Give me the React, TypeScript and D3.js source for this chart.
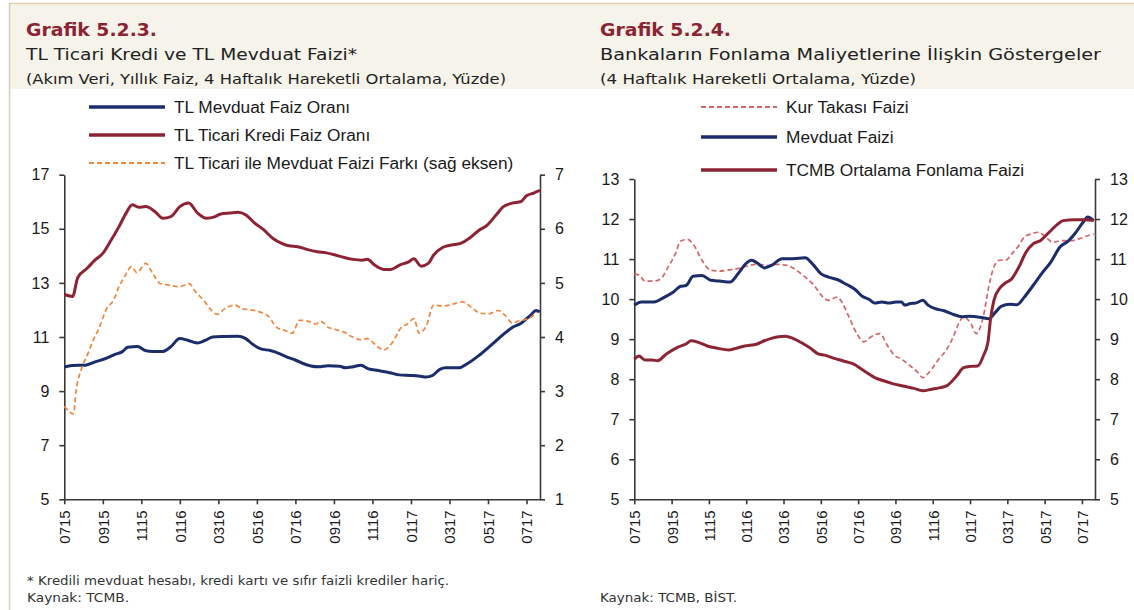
import React, { useRef, useEffect } from 'react';
import * as d3 from 'd3';

type Pt = [number, number];

// x = months counted from July 2015 (0 -> "0715")
const monthTicks = [0, 2, 4, 6, 8, 10, 12, 14, 16, 18, 20, 22, 24];
const monthLabels = ['0715', '0915', '1115', '0116', '0316', '0516', '0716', '0916', '1116', '0117', '0317', '0517', '0717'];

const rateTicks = [5, 7, 9, 11, 13, 15, 17];
const spreadTicks = [1, 2, 3, 4, 5, 6, 7];
const fundTicks = [5, 6, 7, 8, 9, 10, 11, 12, 13];

// Grafik 5.2.3
const tlDeposit: Pt[] = [
  [0, 9.89], [0.4, 9.95], [1.1, 9.96], [1.6, 10.08], [2.2, 10.22], [2.6, 10.35], [3.0, 10.45], [3.3, 10.62],
  [3.8, 10.65], [4.2, 10.5], [4.6, 10.46], [5.1, 10.46], [5.5, 10.62], [6.0, 10.94], [6.4, 10.88], [6.9, 10.78],
  [7.3, 10.87], [7.7, 11.0], [8.3, 11.02], [9.0, 11.03], [9.4, 10.95], [9.8, 10.72], [10.2, 10.56], [10.7, 10.5],
  [11.2, 10.38], [11.6, 10.25], [12.0, 10.15], [12.4, 10.02], [12.8, 9.93], [13.2, 9.9], [13.7, 9.94], [14.3, 9.92],
  [14.6, 9.86], [15.0, 9.9], [15.4, 9.96], [15.8, 9.82], [16.3, 9.76], [16.9, 9.68], [17.4, 9.6], [18.0, 9.58],
  [18.4, 9.56], [18.8, 9.52], [19.1, 9.57], [19.5, 9.8], [19.8, 9.86], [20.5, 9.86], [20.9, 10.0], [21.5, 10.3],
  [22.0, 10.6], [22.4, 10.85], [22.8, 11.1], [23.3, 11.37], [23.7, 11.5], [24.2, 11.8], [24.5, 11.98], [24.69, 11.93],
];

const tlLoan: Pt[] = [
  [0, 12.57], [0.43, 12.5], [0.7, 13.2], [1.17, 13.53], [1.63, 13.87], [2.0, 14.09], [2.38, 14.52], [2.84, 15.08],
  [3.21, 15.58], [3.53, 15.89], [3.86, 15.8], [4.23, 15.82], [4.7, 15.64], [5.12, 15.39], [5.53, 15.45], [6.0, 15.82],
  [6.46, 15.95], [6.92, 15.58], [7.39, 15.39], [7.76, 15.43], [8.13, 15.55], [8.6, 15.58], [9.02, 15.61], [9.43, 15.51],
  [9.9, 15.2], [10.36, 14.96], [10.82, 14.65], [11.29, 14.46], [11.66, 14.37], [12.12, 14.34], [12.59, 14.24], [13.14, 14.15],
  [13.61, 14.11], [14.07, 14.03], [14.53, 13.94], [15.0, 13.87], [15.46, 13.84], [15.74, 13.87], [16.11, 13.66], [16.58, 13.5],
  [16.95, 13.5], [17.41, 13.66], [17.88, 13.78], [18.15, 13.89], [18.53, 13.62], [18.9, 13.72], [19.18, 14.03], [19.64, 14.31],
  [20.1, 14.4], [20.57, 14.46], [21.03, 14.65], [21.5, 14.93], [21.96, 15.14], [22.42, 15.51], [22.8, 15.82], [23.26, 15.95],
  [23.72, 16.01], [24.0, 16.22], [24.37, 16.32], [24.69, 16.42],
];

const loanDepositSpread: Pt[] = [
  [0, 2.72], [0.48, 2.58], [0.61, 3.0], [0.89, 3.41], [1.26, 3.72], [1.45, 3.9], [1.82, 4.18], [2.19, 4.52],
  [2.56, 4.68], [2.84, 4.93], [3.12, 5.11], [3.49, 5.3], [3.77, 5.19], [4.23, 5.36], [4.6, 5.17], [4.97, 4.99],
  [5.44, 4.96], [5.9, 4.93], [6.27, 4.96], [6.46, 4.99], [6.83, 4.83], [7.3, 4.65], [7.57, 4.52], [7.95, 4.42],
  [8.32, 4.52], [8.87, 4.59], [9.24, 4.52], [9.71, 4.5], [10.17, 4.46], [10.64, 4.37], [11.01, 4.18], [11.47, 4.12],
  [11.84, 4.07], [12.21, 4.31], [12.68, 4.29], [13.05, 4.24], [13.33, 4.29], [13.7, 4.18], [14.16, 4.13], [14.53, 4.09],
  [14.91, 4.01], [15.37, 3.95], [15.74, 3.97], [16.11, 3.87], [16.58, 3.76], [17.04, 3.9], [17.5, 4.18], [17.78, 4.23],
  [18.15, 4.34], [18.43, 4.07], [18.8, 4.21], [19.18, 4.59], [19.64, 4.57], [20.1, 4.6], [20.66, 4.65], [21.13, 4.55],
  [21.59, 4.44], [22.05, 4.43], [22.52, 4.49], [22.89, 4.4], [23.26, 4.26], [23.63, 4.3], [24.1, 4.34], [24.56, 4.46],
];

// Grafik 5.2.4
const swapRate: Pt[] = [
  [0, 10.63], [0.29, 10.59], [0.57, 10.45], [1.05, 10.45], [1.43, 10.51], [1.81, 10.8], [2.2, 11.13], [2.48, 11.45],
  [2.86, 11.49], [3.15, 11.38], [3.63, 10.97], [4.1, 10.72], [4.58, 10.7], [5.06, 10.73], [5.54, 10.76], [6.01, 10.82],
  [6.59, 10.87], [7.16, 10.84], [7.73, 10.87], [8.21, 10.84], [8.69, 10.72], [9.16, 10.55], [9.64, 10.34], [10.12, 10.05],
  [10.41, 9.97], [10.88, 10.05], [11.17, 9.89], [11.55, 9.51], [11.93, 9.14], [12.31, 8.93], [12.7, 9.06], [13.17, 9.14],
  [13.56, 8.85], [13.94, 8.6], [14.32, 8.5], [14.8, 8.33], [15.2, 8.17], [15.47, 8.04], [15.66, 8.1], [15.94, 8.25],
  [16.32, 8.5], [16.7, 8.71], [17.09, 9.05], [17.4, 9.4], [17.66, 9.56], [18.04, 9.39], [18.33, 9.14], [18.71, 9.56],
  [19.0, 10.3], [19.28, 10.8], [19.57, 10.97], [19.95, 10.98], [20.24, 11.13], [20.62, 11.34], [20.91, 11.55], [21.29, 11.63],
  [21.67, 11.67], [22.05, 11.55], [22.43, 11.42], [22.91, 11.46], [23.39, 11.46], [23.87, 11.51], [24.34, 11.59], [24.63, 11.63],
];

const depositRate: Pt[] = [
  [0, 9.85], [0.38, 9.93], [1.05, 9.93], [1.62, 10.05], [2.1, 10.18], [2.48, 10.32], [2.77, 10.34], [3.15, 10.57],
  [3.63, 10.59], [4.1, 10.47], [4.58, 10.45], [5.16, 10.43], [5.54, 10.62], [6.01, 10.9], [6.3, 10.97], [6.59, 10.9],
  [6.97, 10.78], [7.35, 10.84], [7.92, 11.01], [8.5, 11.01], [9.16, 11.03], [9.55, 10.88], [10.02, 10.63], [10.41, 10.55],
  [10.88, 10.49], [11.36, 10.37], [11.84, 10.24], [12.22, 10.07], [12.6, 9.99], [12.89, 9.9], [13.27, 9.93], [13.65, 9.9],
  [14.03, 9.93], [14.32, 9.93], [14.51, 9.85], [14.8, 9.89], [15.08, 9.9], [15.47, 9.97], [15.75, 9.85], [16.13, 9.76],
  [16.61, 9.71], [17.09, 9.62], [17.57, 9.56], [17.95, 9.57], [18.62, 9.54], [19.0, 9.51], [19.38, 9.68], [19.67, 9.82],
  [20.14, 9.87], [20.52, 9.86], [20.91, 10.05], [21.38, 10.34], [21.86, 10.65], [22.34, 10.93], [22.82, 11.3], [23.29, 11.46],
  [23.68, 11.67], [24.06, 11.92], [24.31, 12.05], [24.63, 11.96],
];

const cbrtFunding: Pt[] = [
  [0, 8.5], [0.25, 8.58], [0.57, 8.48], [0.95, 8.48], [1.24, 8.46], [1.72, 8.63], [2.29, 8.79], [2.77, 8.88],
  [3.05, 8.96], [3.44, 8.92], [3.91, 8.83], [4.49, 8.77], [5.06, 8.73], [5.44, 8.77], [5.92, 8.83], [6.59, 8.88],
  [6.97, 8.96], [7.35, 9.02], [7.73, 9.06], [8.11, 9.07], [8.5, 9.02], [8.97, 8.91], [9.45, 8.77], [9.83, 8.64],
  [10.2, 8.6], [10.6, 8.54], [11.17, 8.46], [11.74, 8.38], [12.31, 8.21], [12.89, 8.04], [13.37, 7.96], [13.84, 7.89],
  [14.42, 7.83], [14.99, 7.77], [15.47, 7.71], [15.94, 7.75], [16.42, 7.79], [16.8, 7.85], [17.28, 8.08], [17.66, 8.29],
  [18.04, 8.32], [18.42, 8.33], [18.71, 8.58], [18.96, 8.92], [19.09, 9.47], [19.28, 9.97], [19.57, 10.26], [19.86, 10.39],
  [20.24, 10.51], [20.62, 10.8], [21.0, 11.17], [21.38, 11.38], [21.77, 11.46], [22.24, 11.67], [22.72, 11.88], [23.0, 11.96],
  [23.58, 11.98], [24.15, 11.98], [24.63, 11.96],
];

const NAVY = '#1b2d6b';
const WINE = '#8c2434';
const ORANGE = '#f0863c';
const ROSE = '#d4666a';
const AXIS = '#3a3a3a';
const tickFont = '"Liberation Sans", Arial, sans-serif';
const headFont = '"DejaVu Sans", sans-serif';

const App = () => {
  const svgRef = useRef<SVGSVGElement>(null);

  useEffect(() => {
    const svg = d3.select(svgRef.current);
    svg.selectAll('*').remove();

    // header band and frame
    svg.append('rect').attr('x', 9).attr('y', 4).attr('width', 1125).attr('height', 85).attr('fill', '#f5f3ea');
    svg.append('line').attr('x1', 9).attr('x2', 1134).attr('y1', 3.5).attr('y2', 3.5).attr('stroke', '#d9cfb4').attr('stroke-width', 1.5);
    svg.append('line').attr('x1', 9.5).attr('x2', 9.5).attr('y1', 3).attr('y2', 610).attr('stroke', '#d9cfb4').attr('stroke-width', 1.5);

    const text = (x, y, s, size, opts: any = {}) => {
      const t = svg.append('text').attr('x', x).attr('y', y).text(s)
        .style('font-family', opts.font || headFont).style('font-size', size + 'px')
        .attr('fill', opts.fill || '#222');
      if (opts.bold) t.style('font-weight', 'bold');
      if (opts.len) t.attr('textLength', opts.len).attr('lengthAdjust', 'spacingAndGlyphs');
      return t;
    };

    text(26, 36, 'Grafik 5.2.3.', 18.5, { bold: true, fill: '#8c2332', len: 131 });
    text(26, 60, 'TL Ticari Kredi ve TL Mevduat Faizi*', 16, { len: 331 });
    text(26, 84, '(Akım Veri, Yıllık Faiz, 4 Haftalık Hareketli Ortalama, Yüzde)', 13.5, { len: 480 });
    text(600, 36, 'Grafik 5.2.4.', 18.5, { bold: true, fill: '#8c2332', len: 131 });
    text(600, 60, 'Bankaların Fonlama Maliyetlerine İlişkin Göstergeler', 16, { len: 501 });
    text(600, 84, '(4 Haftalık Hareketli Ortalama, Yüzde)', 13.5, { len: 316 });

    text(27, 585, '* Kredili mevduat hesabı, kredi kartı ve sıfır faizli krediler hariç.', 12, { len: 422, fill: '#333' });
    text(27, 602, 'Kaynak: TCMB.', 12, { len: 102, fill: '#333' });
    text(600, 602, 'Kaynak: TCMB, BİST.', 12, { len: 137, fill: '#333' });

    const styleAxis = (g) => {
      g.select('.domain').attr('stroke', AXIS).attr('stroke-width', 1.6);
      g.selectAll('.tick line').attr('stroke', AXIS).attr('stroke-width', 1.6);
      g.selectAll('.tick text').attr('fill', '#1a1a1a')
        .style('font-family', tickFont).style('font-size', '16px');
    };

    const drawPanel = (p) => {
      const x = d3.scaleLinear().domain([0, 24.7]).range([p.x0, p.x1]);
      const yL = d3.scaleLinear().domain(p.leftDomain).range([p.y1, p.y0]);
      const yR = d3.scaleLinear().domain(p.rightDomain).range([p.y1, p.y0]);
      const fmt = d3.format('d');

      const xAxis = svg.append('g').attr('transform', `translate(0,${p.y1})`)
        .call(d3.axisBottom(x).tickValues(monthTicks).tickSize(5).tickSizeOuter(0)
          .tickFormat((d, i) => monthLabels[i]));
      styleAxis(xAxis);
      xAxis.selectAll('.tick text').style('font-size', '15px')
        .attr('transform', 'rotate(-90)').attr('text-anchor', 'end')
        .attr('x', -11).attr('y', 0).attr('dy', '0.36em');

      const lAxis = svg.append('g').attr('transform', `translate(${p.x0},0)`)
        .call(d3.axisLeft(yL).tickValues(p.leftTicks).tickFormat(fmt).tickSize(5).tickPadding(10).tickSizeOuter(0));
      styleAxis(lAxis);

      const rAxis = svg.append('g').attr('transform', `translate(${p.x1},0)`)
        .call(d3.axisRight(yR).tickValues(p.rightTicks).tickFormat(fmt).tickSize(5).tickPadding(10).tickSizeOuter(0));
      styleAxis(rAxis);

      p.series.forEach((s) => {
        const y = s.right ? yR : yL;
        const line = d3.line<Pt>().x((d) => x(d[0])).y((d) => y(d[1])).curve(d3.curveMonotoneX);
        svg.append('path').datum(s.data).attr('d', line).attr('fill', 'none')
          .attr('stroke', s.color).attr('stroke-width', s.dash ? 1.7 : 3)
          .attr('stroke-dasharray', s.dash ? '5,3' : null)
          .attr('stroke-linejoin', 'round');
      });

      p.series.forEach((s, i) => {
        const ly = p.legendY[i];
        svg.append('line').attr('x1', p.legendX).attr('x2', p.legendX + 76).attr('y1', ly).attr('y2', ly)
          .attr('stroke', s.color).attr('stroke-width', s.dash ? 2 : 3.5)
          .attr('stroke-dasharray', s.dash ? '5,3' : null);
        text(p.legendX + 85, ly + 6, s.label, 17.3, { font: tickFont, fill: '#1a1a1a' });
      });
    };

    drawPanel({
      x0: 64.3, x1: 540, y0: 174.7, y1: 499.3,
      leftDomain: [5, 17], rightDomain: [1, 7],
      leftTicks: rateTicks, rightTicks: spreadTicks,
      legendX: 89, legendY: [107, 135, 163],
      series: [
        { label: 'TL Mevduat Faiz Oranı', data: tlDeposit, color: NAVY },
        { label: 'TL Ticari Kredi Faiz Oranı', data: tlLoan, color: WINE },
        { label: 'TL Ticari ile Mevduat Faizi Farkı (sağ eksen)', data: loanDepositSpread, color: ORANGE, dash: true, right: true },
      ],
    });

    drawPanel({
      x0: 634.3, x1: 1095, y0: 179, y1: 499.3,
      leftDomain: [5, 13], rightDomain: [5, 13],
      leftTicks: fundTicks, rightTicks: fundTicks,
      legendX: 701, legendY: [107, 137, 170],
      series: [
        { label: 'Kur Takası Faizi', data: swapRate, color: ROSE, dash: true },
        { label: 'Mevduat Faizi', data: depositRate, color: NAVY },
        { label: 'TCMB Ortalama Fonlama Faizi', data: cbrtFunding, color: WINE },
      ],
    });
  }, []);

  return (
    <div>
      <svg ref={svgRef} width={1134} height={610} style={{ position: 'absolute', left: 0, top: 0, background: '#fff' }} />
    </div>
  );
};

export default App;
